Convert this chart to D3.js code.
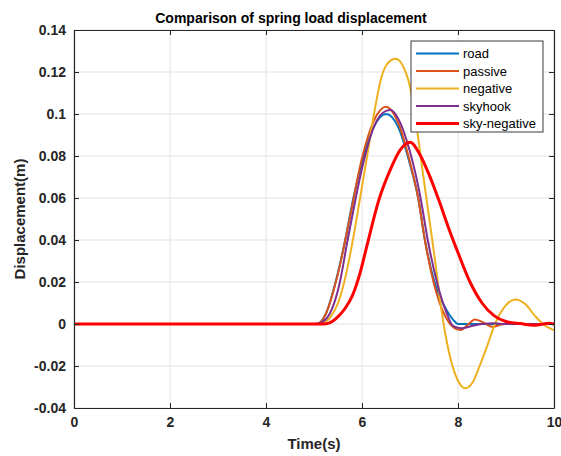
<!DOCTYPE html>
<html>
<head>
<meta charset="utf-8">
<script src="https://cdn.jsdelivr.net/npm/d3@7"></script>
<style>
  body { margin: 0; background: #fff; }
  text { font-family: "Liberation Sans", Arial, sans-serif; }
</style>
</head>
<body>
<div id="renderer"></div>
<script>
// time (s) and displacement (m), per series
var roadT = [0, 5.0, 5.1, 5.25, 5.45, 5.65, 5.82, 6.0, 6.25, 6.5, 6.75, 7.0, 7.17, 7.31, 7.51, 7.76, 7.9, 8.0, 10];
var roadY = [0, 0, 0.0004, 0.005, 0.02, 0.04, 0.06, 0.077, 0.094, 0.1, 0.094, 0.076, 0.06, 0.04, 0.02, 0.0067, 0.002, 0, 0];

var passiveT = [0, 5.0, 5.1, 5.25, 5.5, 5.75, 6.0, 6.25, 6.5, 6.75, 7.0, 7.17, 7.31, 7.49, 7.75, 7.9, 8.05, 8.2, 8.35, 8.5, 8.73, 8.9, 9.1, 9.3, 9.5, 9.7, 10];
var passiveY = [0, 0, 0.0003, 0.005, 0.024, 0.051, 0.079, 0.097, 0.1035, 0.096, 0.077, 0.06, 0.04, 0.02, 0.003, -0.0015, -0.0029, -0.0005, 0.0022, 0.001, -0.0013, -0.0003, 0.0006, 0.0002, -0.0004, 0, 0];

var negativeT = [0, 5.0, 5.15, 5.35, 5.5, 5.63, 5.81, 5.96, 6.1, 6.25, 6.41, 6.55, 6.7, 6.85, 7.0, 7.1, 7.26, 7.5, 7.7, 7.85, 8.0, 8.15, 8.3, 8.45, 8.6, 8.77, 9.0, 9.2, 9.4, 9.6, 9.77, 10];
var negativeY = [0, 0, 0.0002, 0.0035, 0.01, 0.02, 0.04, 0.06, 0.079, 0.1, 0.118, 0.1245, 0.1263, 0.123, 0.113, 0.1, 0.0733, 0.034, 0, -0.017, -0.027, -0.0306, -0.028, -0.02, -0.011, 0, 0.009, 0.0117, 0.0095, 0.004, 0, -0.003];

var skyhookT = [0, 5.0, 5.1, 5.29, 5.54, 5.7, 5.87, 6.0, 6.25, 6.5, 6.6, 6.75, 7.0, 7.22, 7.37, 7.56, 7.75, 7.9, 8.08, 8.25, 8.5, 8.75, 9.0, 10];
var skyhookY = [0, 0, 0.0003, 0.0035, 0.02, 0.04, 0.06, 0.074, 0.094, 0.1015, 0.1019, 0.098, 0.082, 0.06, 0.04, 0.02, 0.006, -0.001, -0.002, -0.0012, 0, 0.0003, 0, 0];

var skyNegT = [0, 5.0, 5.2, 5.35, 5.5, 5.65, 5.8, 5.95, 6.1, 6.35, 6.6, 6.8, 7.0, 7.2, 7.4, 7.6, 7.8, 8.0, 8.25, 8.5, 8.75, 9.0, 9.3, 9.6, 9.9, 10];
var skyNegY = [0, 0, 0, 0.0008, 0.0035, 0.0075, 0.0135, 0.0235, 0.037, 0.059, 0.074, 0.083, 0.0865, 0.081, 0.071, 0.059, 0.046, 0.034, 0.02, 0.01, 0.004, 0.0012, 0.0002, -0.0006, 0.0003, 0];

var seriesNames = ['road', 'passive', 'negative', 'skyhook', 'sky-negative'];
var seriesColors = ['#0072BD', '#D95319', '#EDB120', '#7E2F8E', '#FF0000'];
var seriesWidths = [2, 2, 2, 2, 3];

var xTicks = [0, 2, 4, 6, 8, 10];
var yTicks = [-0.04, -0.02, 0, 0.02, 0.04, 0.06, 0.08, 0.1, 0.12, 0.14];
var yTickLabels = ['-0.04', '-0.02', '0', '0.02', '0.04', '0.06', '0.08', '0.1', '0.12', '0.14'];

var series = [
  { t: roadT, y: roadY },
  { t: passiveT, y: passiveY },
  { t: negativeT, y: negativeY },
  { t: skyhookT, y: skyhookY },
  { t: skyNegT, y: skyNegY }
];

var W = 561, H = 456;
var pLeft = 74, pRight = 554, pTop = 30, pBottom = 408;

var svg = d3
  .select('#renderer')
  .append('svg')
  .attr('width', W)
  .attr('height', H);

var x = d3.scaleLinear().domain([0, 10]).range([pLeft, pRight]);
var y = d3.scaleLinear().domain([-0.04, 0.14]).range([pBottom, pTop]);

// grid
var grid = svg.append('g');
grid.selectAll('line.gx')
  .data(xTicks)
  .enter()
  .append('line')
  .attr('x1', function (d) { return x(d); })
  .attr('x2', function (d) { return x(d); })
  .attr('y1', pTop)
  .attr('y2', pBottom)
  .attr('stroke', '#e3e3e3')
  .attr('stroke-width', 1);
grid.selectAll('line.gy')
  .data(yTicks)
  .enter()
  .append('line')
  .attr('x1', pLeft)
  .attr('x2', pRight)
  .attr('y1', function (d) { return y(d); })
  .attr('y2', function (d) { return y(d); })
  .attr('stroke', '#e3e3e3')
  .attr('stroke-width', 1);

// lines
var clip = svg.append('clipPath').attr('id', 'plotclip');
clip.append('rect').attr('x', pLeft).attr('y', pTop).attr('width', pRight - pLeft).attr('height', pBottom - pTop);

var line = d3.line()
  .x(function (d) { return x(d[0]); })
  .y(function (d) { return y(d[1]); })
  .curve(d3.curveMonotoneX);

var lines = svg.append('g').attr('clip-path', 'url(#plotclip)');
series.forEach(function (s, i) {
  var pts = s.t.map(function (t, k) { return [t, s.y[k]]; });
  lines.append('path')
    .attr('d', line(pts))
    .attr('fill', 'none')
    .attr('stroke', seriesColors[i])
    .attr('stroke-width', seriesWidths[i])
    .attr('stroke-linejoin', 'round');
});

// axes (MATLAB style, ticks inside, box on)
var axisColor = '#262626';
var tickLen = 5;

var xb = svg.append('g').attr('transform', 'translate(0,' + pBottom + ')')
  .call(d3.axisBottom(x).tickValues(xTicks).tickSizeInner(-tickLen).tickSizeOuter(0).tickPadding(9)
    .tickFormat(d3.format('d')));
var xt = svg.append('g').attr('transform', 'translate(0,' + pTop + ')')
  .call(d3.axisTop(x).tickValues(xTicks).tickSizeInner(-tickLen).tickSizeOuter(0).tickFormat(''));
var yl = svg.append('g').attr('transform', 'translate(' + pLeft + ',0)')
  .call(d3.axisLeft(y).tickValues(yTicks).tickSizeInner(-tickLen).tickSizeOuter(0).tickPadding(8)
    .tickFormat(function (d, i) { return yTickLabels[i]; }));
var yr = svg.append('g').attr('transform', 'translate(' + pRight + ',0)')
  .call(d3.axisRight(y).tickValues(yTicks).tickSizeInner(-tickLen).tickSizeOuter(0).tickFormat(''));

[xb, xt, yl, yr].forEach(function (g) {
  g.select('.domain').attr('stroke', axisColor).attr('stroke-width', 1.2);
  g.selectAll('.tick line').attr('stroke', axisColor);
  g.selectAll('.tick text')
    .attr('fill', '#262626')
    .style('font', 'bold 14px "Liberation Sans", Arial, sans-serif');
});

// title and labels
svg.append('text')
  .attr('x', 291)
  .attr('y', 23)
  .attr('text-anchor', 'middle')
  .attr('fill', '#000')
  .style('font', 'bold 14px "Liberation Sans", Arial, sans-serif')
  .text('Comparison of spring load displacement');

svg.append('text')
  .attr('x', 314)
  .attr('y', 449)
  .attr('text-anchor', 'middle')
  .attr('fill', '#262626')
  .style('font', 'bold 15px "Liberation Sans", Arial, sans-serif')
  .text('Time(s)');

svg.append('text')
  .attr('transform', 'translate(25,' + ((pTop + pBottom) / 2) + ') rotate(-90)')
  .attr('text-anchor', 'middle')
  .attr('fill', '#262626')
  .style('font', 'bold 15px "Liberation Sans", Arial, sans-serif')
  .text('Displacement(m)');

// legend
var lg = svg.append('g').attr('transform', 'translate(411,41)');
lg.append('rect')
  .attr('width', 132)
  .attr('height', 91)
  .attr('fill', '#fff')
  .attr('stroke', '#3a3a3a')
  .attr('stroke-width', 1);
seriesNames.forEach(function (name, i) {
  var cy = 12.5 + i * 17.5;
  lg.append('line')
    .attr('x1', 5)
    .attr('x2', 48)
    .attr('y1', cy)
    .attr('y2', cy)
    .attr('stroke', seriesColors[i])
    .attr('stroke-width', seriesWidths[i]);
  lg.append('text')
    .attr('x', 52)
    .attr('y', cy + 4.5)
    .attr('fill', '#000')
    .style('font', '13px "Liberation Sans", Arial, sans-serif')
    .text(name);
});
</script>
</body>
</html>
